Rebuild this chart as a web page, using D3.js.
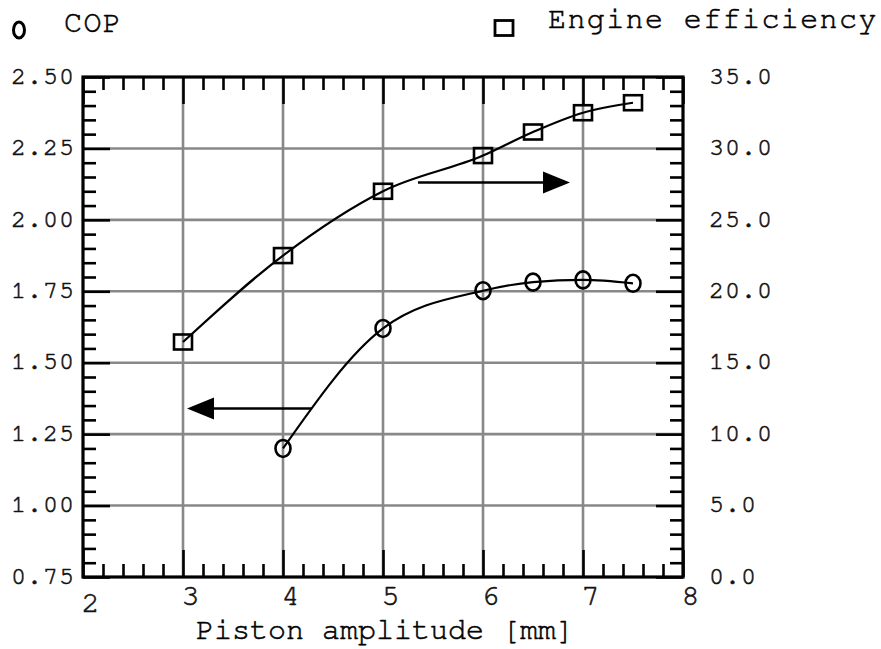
<!DOCTYPE html>
<html><head><meta charset="utf-8">
<script src="https://cdn.jsdelivr.net/npm/d3@7"></script>
<style>body{margin:0;background:#fff} svg{display:block} text{stroke:#111;stroke-width:0.6px;paint-order:stroke}</style>
</head><body><svg id="c" width="881" height="649"></svg>
<script>
// ---- data ----
const effAmplitude = [3, 4, 5, 6, 6.5, 7, 7.5];
const efficiency   = [16.45, 22.5, 27.0, 29.5, 31.15, 32.5, 33.2];
const copAmplitude = [4, 5, 6, 6.5, 7, 7.5];
const cop          = [1.20, 1.62, 1.752, 1.782, 1.79, 1.778];
const xTicks   = [2, 3, 4, 5, 6, 7, 8];
const copTicks = [0.75, 1.00, 1.25, 1.50, 1.75, 2.00, 2.25, 2.50];
const effTicks = [0, 5, 10, 15, 20, 25, 30, 35];
const legendLabels = ["COP", "Engine efficiency"];
const xTitle = "Piston amplitude [mm]";
// arrows in (amplitude, COP) coordinates
const arrowFrom = [[5.35, 2.131], [4.28, 1.34]];
const arrowTo   = [[6.87, 2.131], [3.04, 1.34]];

// ---- layout ----
const L = 83, R = 683, T = 77, B = 577;
const MAJ = 27, MIN = 13;
const svg = d3.select("#c");
const x = d3.scaleLinear().domain([2, 8]).range([L, R]);
const yC = d3.scaleLinear().domain([0.75, 2.5]).range([B, T]);
const yE = d3.scaleLinear().domain([0, 35]).range([B, T]);
const FONT = "'Nimbus Mono PS', 'Nimbus Mono L', FreeMono, Courier, 'Liberation Mono', monospace";

// gridlines
const g = svg.append("g").attr("stroke", "#888").attr("stroke-width", 2.6);
xTicks.slice(1, -1).forEach(t => g.append("line").attr("x1", x(t)).attr("x2", x(t)).attr("y1", T).attr("y2", B));
copTicks.slice(1, -1).forEach(t => g.append("line").attr("x1", L).attr("x2", R).attr("y1", yC(t)).attr("y2", yC(t)));

// minor tick values
const xMinor = d3.range(0, 31).map(i => 2 + i * 0.2).filter(v => Math.abs(v - Math.round(v)) > 1e-6);
const cMinor = d3.range(0, 36).map(i => 0.75 + i * 0.05).filter(v => Math.abs((v - 0.75) / 0.25 - Math.round((v - 0.75) / 0.25)) > 1e-6);
const eMinor = d3.range(0, 36).filter(v => v % 5 !== 0);

function styleAxis(sel) {
  sel.select(".domain").remove();
  sel.selectAll(".tick line").attr("stroke", "#000").attr("stroke-width", 2.6);
  sel.selectAll("text").attr("fill", "#111").attr("font-family", FONT);
}

// bottom
const bMaj = svg.append("g").attr("transform", `translate(0,${B})`)
  .call(d3.axisBottom(x).tickValues(xTicks).tickSize(-MAJ).tickFormat(d3.format("d")));
styleAxis(bMaj);
bMaj.selectAll("text").attr("font-size", 30).attr("dy", null)
  .attr("y", d => d === 2 ? 35 : 28).attr("x", 7);
svg.append("g").attr("transform", `translate(0,${B})`)
  .call(d3.axisBottom(x).tickValues(xMinor).tickSize(-MIN).tickFormat("")).call(styleAxis);
// top
svg.append("g").attr("transform", `translate(0,${T})`)
  .call(d3.axisTop(x).tickValues(xTicks).tickSize(-MAJ).tickFormat("")).call(styleAxis);
svg.append("g").attr("transform", `translate(0,${T})`)
  .call(d3.axisTop(x).tickValues(xMinor).tickSize(-MIN).tickFormat("")).call(styleAxis);
// left
const lMaj = svg.append("g").attr("transform", `translate(${L},0)`)
  .call(d3.axisLeft(yC).tickValues(copTicks).tickSize(-MAJ).tickPadding(8).tickFormat(d3.format(".2f")));
styleAxis(lMaj);
lMaj.selectAll("text").attr("font-size", 25).attr("letter-spacing", 1).attr("dy", "0.25em");
svg.append("g").attr("transform", `translate(${L},0)`)
  .call(d3.axisLeft(yC).tickValues(cMinor).tickSize(-MIN).tickFormat("")).call(styleAxis);
// right
const rMaj = svg.append("g").attr("transform", `translate(${R},0)`)
  .call(d3.axisRight(yE).tickValues(effTicks).tickSize(-MAJ).tickPadding(26).tickFormat(d3.format(".1f")));
styleAxis(rMaj);
rMaj.selectAll("text").attr("font-size", 25).attr("letter-spacing", 1).attr("dy", "0.25em");
svg.append("g").attr("transform", `translate(${R},0)`)
  .call(d3.axisRight(yE).tickValues(eMinor).tickSize(-MIN).tickFormat("")).call(styleAxis);

// frame
svg.append("rect").attr("x", L).attr("y", T).attr("width", R - L).attr("height", B - T)
  .attr("fill", "none").attr("stroke", "#000").attr("stroke-width", 3.2);

// curves
const effData = effAmplitude.map((a, i) => [a, efficiency[i]]);
const copData = copAmplitude.map((a, i) => [a, cop[i]]);
const lineE = d3.line().x(d => x(d[0])).y(d => yE(d[1])).curve(d3.curveMonotoneX);
const lineC = d3.line().x(d => x(d[0])).y(d => yC(d[1])).curve(d3.curveMonotoneX);
svg.append("path").attr("d", lineE(effData)).attr("fill", "none").attr("stroke", "#000").attr("stroke-width", 2.2);
svg.append("path").attr("d", lineC(copData)).attr("fill", "none").attr("stroke", "#000").attr("stroke-width", 2.2);

// markers
svg.selectAll(".box").data(effData).join("rect").attr("class", "box")
  .attr("x", d => x(d[0]) - 9).attr("y", d => yE(d[1]) - 7.5).attr("width", 18).attr("height", 15)
  .attr("fill", "none").attr("stroke", "#000").attr("stroke-width", 2.6);
svg.selectAll(".circ").data(copData).join("ellipse").attr("class", "circ")
  .attr("cx", d => x(d[0])).attr("cy", d => yC(d[1])).attr("rx", 7.5).attr("ry", 8.5)
  .attr("fill", "none").attr("stroke", "#000").attr("stroke-width", 2.6);

// arrows
arrowFrom.forEach((f, i) => {
  const x0 = x(f[0]), y0 = yC(f[1]), x1 = x(arrowTo[i][0]), y1 = yC(arrowTo[i][1]);
  const dir = Math.sign(x1 - x0), head = 27, hw = 11;
  svg.append("line").attr("x1", x0).attr("y1", y0).attr("x2", x1 - dir * head).attr("y2", y1)
    .attr("stroke", "#000").attr("stroke-width", 2.4);
  svg.append("path").attr("d", `M${x1},${y1}L${x1 - dir * head},${y1 - hw}L${x1 - dir * head},${y1 + hw}Z`).attr("fill", "#000");
});

// legend
svg.append("ellipse").attr("cx", 19).attr("cy", 30).attr("rx", 5.5).attr("ry", 8)
  .attr("fill", "none").attr("stroke", "#000").attr("stroke-width", 3);
svg.append("text").attr("x", 64).attr("y", 32).text(legendLabels[0])
  .attr("font-family", FONT).attr("font-size", 30).attr("letter-spacing", 1.4);
svg.append("rect").attr("x", 495).attr("y", 20.5).attr("width", 18).attr("height", 15)
  .attr("fill", "none").attr("stroke", "#000").attr("stroke-width", 2.8);
svg.append("text").attr("x", 548).attr("y", 28).text(legendLabels[1])
  .attr("font-family", FONT).attr("font-size", 30).attr("letter-spacing", 1.4);

// x title
svg.append("text").attr("x", (L + R) / 2 + 2).attr("y", 639).attr("text-anchor", "middle")
  .attr("font-family", FONT).attr("font-size", 30).text(xTitle);
</script></body></html>
